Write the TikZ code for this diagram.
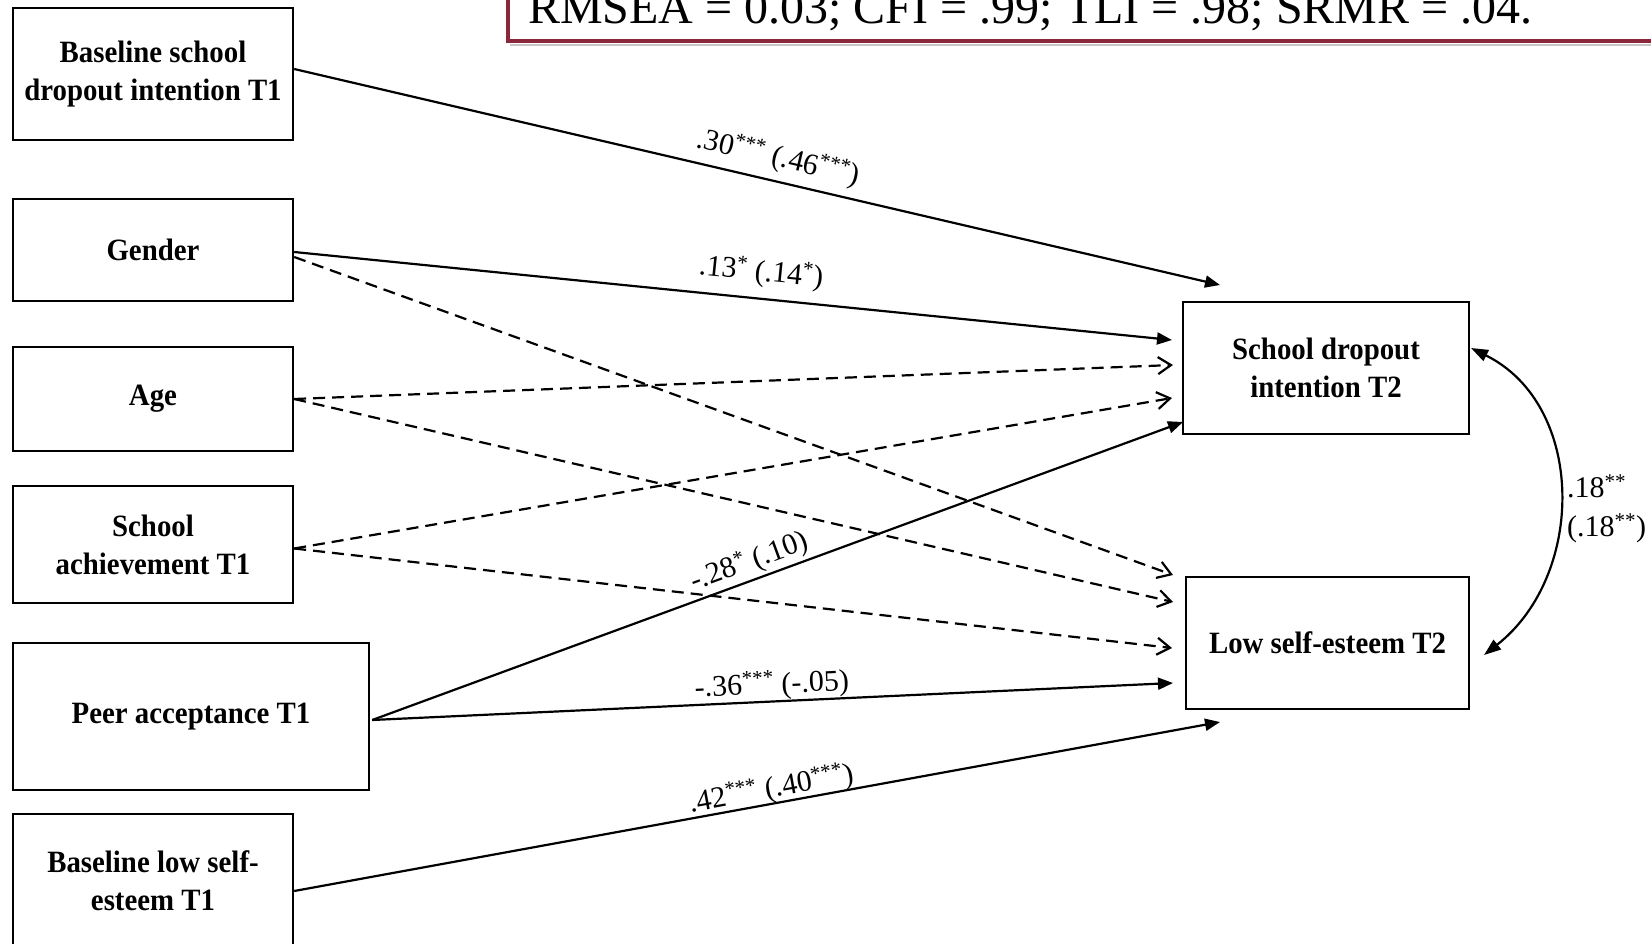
\documentclass[tikz,border=0pt]{standalone}
\usepackage{fontspec}
\setmainfont{Liberation Serif}
\newfontfamily\boxfont{Liberation Serif}[FakeStretch=0.93]
\usetikzlibrary{arrows.meta,calc}
\definecolor{topred}{RGB}{138,40,58}
\begin{document}
\begin{tikzpicture}[x=1pt,y=-1pt,
  box/.style={draw, line width=2.4pt, align=center, inner sep=0pt,
    font=\boxfont\fontsize{31}{38}\selectfont\bfseries},
  solidarr/.style={line width=2.2pt, -{Triangle[length=15pt,width=12pt]}},
  dasharr/.style={line width=2.2pt, dash pattern=on 12pt off 7pt,
    -{Straight Barb[length=13pt,width=17pt]}},
  lbl/.style={sloped, anchor=base, inner sep=0pt, font=\fontsize{30}{36}\selectfont},
  corr/.style={line width=2.2pt, {Triangle[length=17pt,width=12pt]}-{Triangle[length=17pt,width=12pt]}}
]
\useasboundingbox (0,0) rectangle (1651,944);
\clip (0,0) rectangle (1651,944);

% fit indices box (cut at top)
\draw[gray!45, line width=1.5pt] (510,45) -- (1700,45);
\draw[topred, line width=4pt] (508,-30) rectangle (1700,41);
\node[anchor=base west, inner sep=0pt, font=\fontsize{48}{56}\selectfont] (fit) at (528,24)
  {RMSEA = 0.03; CFI = .99; TLI = .98; SRMR = .04.};

% predictors
\node[box, minimum width=280pt, minimum height=132pt] (b1) at (153,74)
  {Baseline school\\dropout intention T1};
\node[box, minimum width=280pt, minimum height=102pt] (gender) at (153,250) {Gender};
\node[box, minimum width=280pt, minimum height=104pt] (age) at (153,399) {Age};
\node[box, minimum width=280pt, minimum height=117pt] (ach) at (153,544.5)
  {School\\achievement T1};
\node[box, minimum width=356pt, minimum height=147pt] (peer) at (191,716.5)
  {Peer acceptance T1};
\node[box, minimum width=280pt, minimum height=134pt] (bl) at (153,881)
  {Baseline low self-\\esteem T1};

% outcomes
\node[box, minimum width=286pt, minimum height=132pt] (sd) at (1326,368)
  {School dropout\\intention T2};
\node[box, minimum width=283pt, minimum height=132pt] (lse) at (1327.5,643)
  {Low self-esteem T2};

% connector end points
\coordinate (t1) at (1220,285);
\coordinate (t2) at (1172,340);
\coordinate (t3) at (1173,575);
\coordinate (t4) at (1173,365);
\coordinate (t5) at (1173,602);
\coordinate (t6) at (1172,398);
\coordinate (t7) at (1172,648);
\coordinate (t8) at (1183,422);
\coordinate (t9) at (1173,683);
\coordinate (t10) at (1220,722);
\coordinate (c1) at (1471,348);
\coordinate (c2) at (1484,655);

% dashed (non-significant) paths
\draw[dasharr] ($(gender.east)+(0,7)$) -- (t3);
\draw[dasharr] (age.east) -- (t4);
\draw[dasharr] (age.east) -- (t5);
\draw[dasharr] ($(ach.east)+(0,4)$) -- (t6);
\draw[dasharr] ($(ach.east)+(0,4)$) -- (t7);

% solid paths
\draw[solidarr] ($(b1.east)+(0,-5)$) --
  node[lbl, pos=0.517, yshift=15pt] {.30\textsuperscript{***} (.46\textsuperscript{***})} (t1);
\draw[solidarr] ($(gender.east)+(0,2)$) --
  node[lbl, pos=0.529, yshift=18pt] {.13\textsuperscript{*} (.14\textsuperscript{*})} (t2);
\draw[solidarr] ($(peer.east)+(2,3.5)$) --
  node[lbl, pos=0.473, yshift=10pt] {-.28\textsuperscript{*} (.10)} (t8);
\draw[solidarr] ($(peer.east)+(2,3.5)$) --
  node[lbl, pos=0.5, yshift=8pt] {-.36\textsuperscript{***} (-.05)} (t9);
\draw[solidarr] ($(bl.east)+(0,10)$) --
  node[lbl, pos=0.518, yshift=6pt] {.42\textsuperscript{***} (.40\textsuperscript{***})} (t10);

% residual correlation
\draw[corr] (c1) .. controls (1586,405) and (1586,575) .. (c2);
\node[anchor=west, align=left, inner sep=0pt, font=\fontsize{30}{39}\selectfont] (r) at (1567,509)
  {.18\textsuperscript{**}\\(.18\textsuperscript{**})};
\end{tikzpicture}
\end{document}
